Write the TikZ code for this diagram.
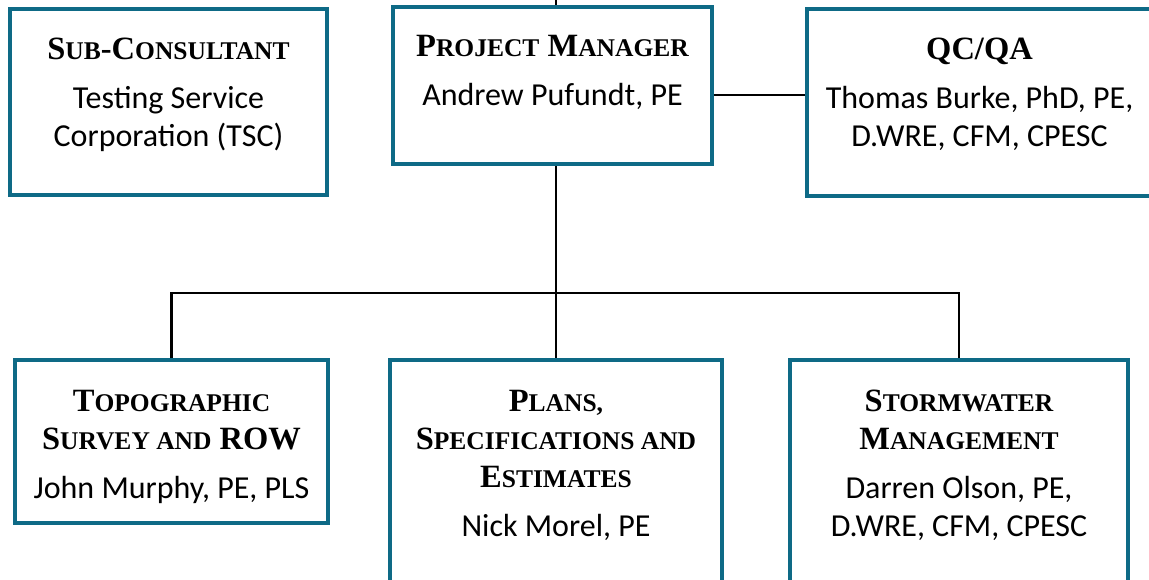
\documentclass[tikz,border=0pt]{standalone}
\usepackage{fontspec}
\setmainfont{Carlito}
\newfontfamily\ttlfont{Liberation Serif}
\usepackage{xcolor}
\usepackage{tikz}
\usetikzlibrary{positioning, calc}

\definecolor{boxteal}{RGB}{14,106,134}
\newcommand{\namefont}{\fontsize{32}{38}\selectfont}
\newcommand{\ttl}[1]{{\ttlfont\bfseries\fontsize{32.5}{38}\selectfont #1}}
\newcommand{\sml}[1]{{\fontsize{25.5}{38}\selectfont #1}}

\begin{document}
\begin{tikzpicture}[
    x=1pt, y=-1pt,
    frame/.style={rectangle, draw=boxteal, line width=4pt, fill=white, inner sep=0pt},
    txt/.style={anchor=north, align=center, inner sep=0pt, font=\namefont},
    link/.style={draw=black, line width=2.7pt}
]
\useasboundingbox (0,0) rectangle (1149,580);
\clip (0,0) rectangle (1149,580);

% Boxes
\node[frame, minimum width=317pt, minimum height=186pt] (sub) at (168.5, 102) {};
\node[frame, minimum width=319pt, minimum height=157pt] (pm) at (552.5, 85.5) {};
\node[frame, minimum width=345pt, minimum height=187pt] (qc) at (979.5, 102.5) {};
\node[frame, minimum width=313pt, minimum height=163pt] (topo) at (171.5, 441.5) {};
\node[frame, minimum width=332pt, minimum height=260pt] (pse) at (556, 490) {};
\node[frame, minimum width=338pt, minimum height=260pt] (storm) at (959, 490) {};

% Texts
\node[txt, below=31pt of sub.north] (subtext) {\ttl{S\sml{UB}-C\sml{ONSULTANT}}\\[11pt] Testing Service\\ Corporation (TSC)};
\node[txt, below=30pt of pm.north] (pmtext) {\ttl{P\sml{ROJECT} M\sml{ANAGER}}\\[11pt] Andrew Pufundt, PE};
\node[txt, below=31pt of qc.north] (qctext) {\ttl{QC/QA}\\[11pt] Thomas Burke, PhD, PE,\\ D.WRE, CFM, CPESC};
\node[txt, below=32pt of topo.north] (topotext) {\ttl{T\sml{OPOGRAPHIC}}\\ \ttl{S\sml{URVEY AND} ROW}\\[11pt] John Murphy, PE, PLS};
\node[txt, below=32pt of pse.north] (psetext) {\ttl{P\sml{LANS,}}\\ \ttl{S\sml{PECIFICATIONS AND}}\\ \ttl{E\sml{STIMATES}}\\[11pt] Nick Morel, PE};
\node[txt, below=32pt of storm.north] (stormtext) {\ttl{S\sml{TORMWATER}}\\ \ttl{M\sml{ANAGEMENT}}\\[11pt] Darren Olson, PE,\\ D.WRE, CFM, CPESC};

% Connectors
\coordinate (top) at (556, 0);
\coordinate (bus) at (556, 293);
\draw[link] (pm.north -| top) -- (top);
\draw[link] ([yshift=-9.5pt]pm.east) -- ([yshift=-9.5pt]pm.east -| qc.west);
\draw[link] (pm.south -| pse.north) -- (pse.north);
\draw[link] (topo.north) |- (bus) -| (storm.north);

\end{tikzpicture}
\end{document}
